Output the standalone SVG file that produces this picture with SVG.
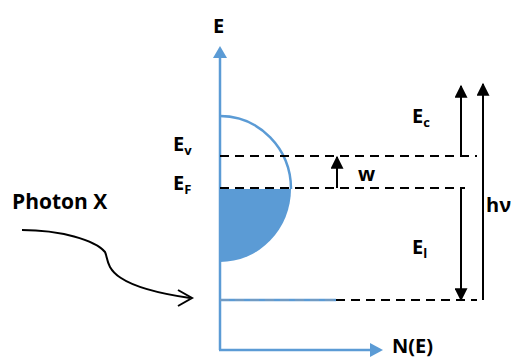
<svg xmlns="http://www.w3.org/2000/svg" width="515" height="359" viewBox="0 0 515 359">
<style>
.t{font-family:"Open Sans","Liberation Sans",sans-serif;font-weight:bold;font-size:20px;fill:#000}
.s{font-size:13px}
.ax{stroke:#5B9BD5;stroke-width:2.5;fill:none}
.d{stroke:#000;stroke-width:2.2;stroke-dasharray:9 6;fill:none}
.a{stroke:#000;stroke-width:2;fill:none}
</style>
<defs>
<marker id="ka" viewBox="0 0 10 10" refX="9" refY="5" markerWidth="14" markerHeight="13" orient="auto" markerUnits="userSpaceOnUse"><path d="M0,0L10,5L0,10Z" fill="#000"/></marker>
</defs>
<g id="dos">
<path d="M220,189 L291,189 A71,73 0 0 1 220,262 Z" fill="#5B9BD5"/>
<path d="M220,116 A71,73 0 0 1 291,189" class="ax"/>
</g>
<g id="axes">
<line x1="220" y1="350" x2="220" y2="56" class="ax"/>
<path d="M220,58 L213,58 L220,46 L227,58 Z" fill="#5B9BD5"/>
<line x1="219" y1="350" x2="372" y2="350" class="ax"/>
<path d="M370,343 L383,350 L370,357 Z" fill="#5B9BD5"/>
<line x1="220" y1="300" x2="336" y2="300" class="ax"/>
</g>
<g id="levels">
<line x1="220" y1="156" x2="477" y2="156" class="d"/>
<line x1="220" y1="188" x2="465" y2="188" class="d"/>
<line x1="220" y1="300" x2="336" y2="300" stroke="#8a9bb0" stroke-width="1" stroke-dasharray="9 6"/>
<line x1="336" y1="300" x2="477" y2="300" class="d"/>
</g>
<g id="connectors">
<line x1="461" y1="156" x2="461" y2="86" class="a" marker-end="url(#ka)"/>
<line x1="483" y1="300" x2="483" y2="84" class="a" marker-end="url(#ka)"/>
<line x1="461" y1="188" x2="461" y2="300" class="a" marker-end="url(#ka)"/>
<line x1="337" y1="188" x2="337" y2="157" class="a" marker-end="url(#ka)"/>
<path d="M22,230 C60,230 95,240 105,252 C110,262 100,285 190,298" class="a"/>
<path d="M178,290 L192,298 L178,306" class="a"/>
</g>
<g id="labels">
<text class="t" x="213" y="33">E</text>
<text class="t" x="173" y="151">E<tspan class="s" dy="4">v</tspan></text>
<text class="t" x="173" y="190">E<tspan class="s" dy="4">F</tspan></text>
<text class="t" x="412" y="123">E<tspan class="s" dy="4">c</tspan></text>
<text class="t" x="412" y="254">E<tspan class="s" dy="4">l</tspan></text>
<text class="t" x="358" y="181">w</text>
<text class="t" x="486" y="212">hν</text>
<text class="t" x="12" y="209" style="font-size:21px">Photon X</text>
<text class="t" x="392" y="353">N(E)</text>
</g>
</svg>
